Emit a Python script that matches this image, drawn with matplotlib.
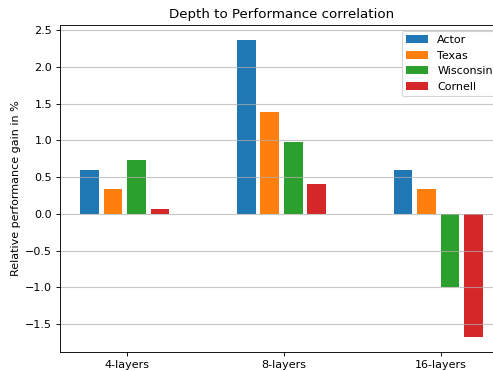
import numpy as np
import matplotlib
matplotlib.use("Agg")
import matplotlib.pyplot as plt

# relative gain per dataset for each network depth
depths = ["4-layers", "8-layers", "16-layers"]
actor = [0.60, 2.37, 0.60]
texas = [0.345, 1.39, 0.345]
wisconsin = [0.74, 0.98, -1.0]
cornell = [0.06, 0.41, -1.68]

series = [("Actor", actor), ("Texas", texas),
          ("Wisconsin", wisconsin), ("Cornell", cornell)]

dpi = 80
fig = plt.figure(figsize=(493 / dpi, 371 / dpi), dpi=dpi)
# axes run a little past the right edge of the canvas
ax = fig.add_axes([60 / 493, 19 / 371, 443 / 493, 327 / 371])

x = np.arange(len(depths))
width = 0.12
step = 0.15
for i, (name, vals) in enumerate(series):
    ax.bar(x - 0.3 + i * step, vals, width, align="edge", label=name)

ax.set_xticks(x)
ax.set_xticklabels(depths)
ax.set_ylabel("Relative performance gain in %")
ax.set_title("Depth to Performance correlation")
ax.yaxis.grid(True, color="#b0b0b0", alpha=0.7, linewidth=1)
ax.legend(loc="upper right")

fig.savefig("out.png", dpi=dpi)
